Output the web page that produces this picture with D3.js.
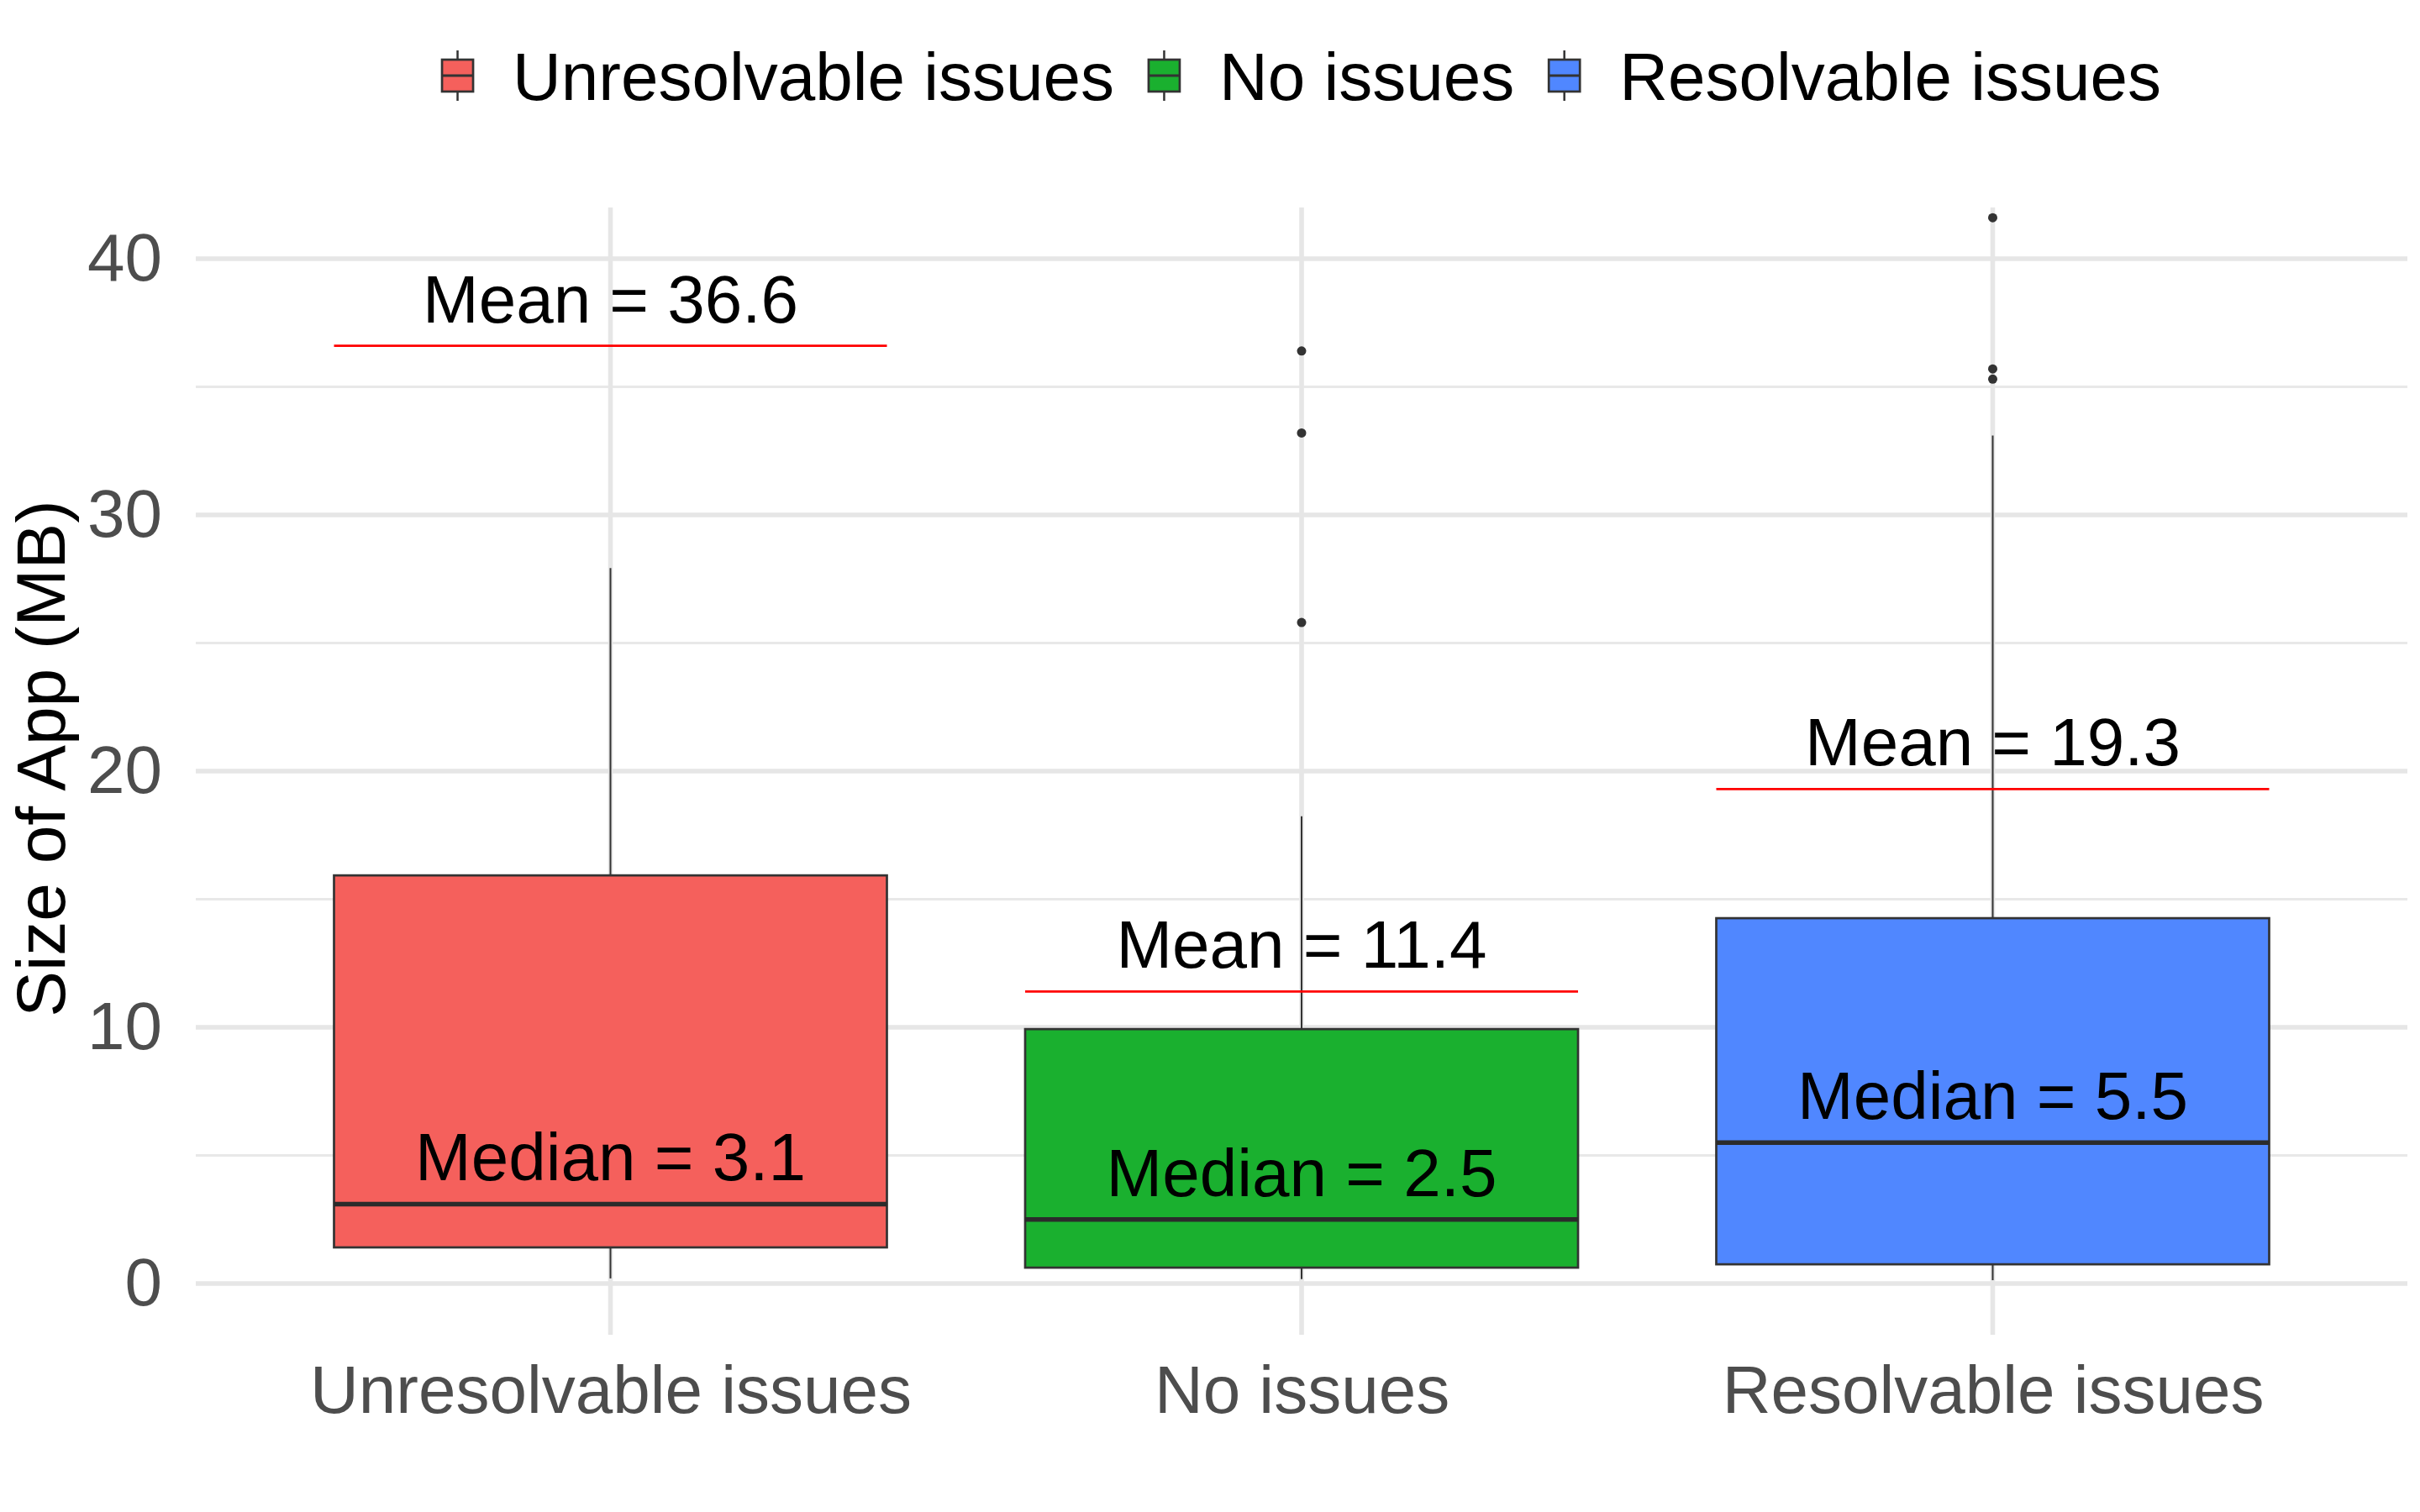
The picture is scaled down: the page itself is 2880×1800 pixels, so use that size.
<!DOCTYPE html>
<html>
<head>
<meta charset="utf-8">
<script src="https://cdn.jsdelivr.net/npm/d3@7"></script>
<style>
  body { margin: 0; background: #fff; }
  text { font-family: "Liberation Sans", Arial, sans-serif; }
</style>
</head>
<body>
<div class="container"></div>
<script>
// box plot stats (MB)
const groups = ["Unresolvable issues", "No issues", "Resolvable issues"];
const fills = ["#F5605C", "#1AB02F", "#5087FF"];
const lowerWhisker = [0.2, 0.17, 0.13];
const q1 = [1.41, 0.62, 0.75];
const medians = [3.1, 2.5, 5.5];
const q3 = [15.93, 9.93, 14.26];
const upperWhisker = [27.93, 18.24, 33.1];
const means = [36.6, 11.4, 19.3];
const outliers = [[], [36.4, 33.2, 25.8], [41.6, 35.7, 35.3]];
const yTicks = [0, 10, 20, 30, 40];
const yMinor = [5, 15, 25, 35];

let outerWidth = 2880,
    outerHeight = 1800;
let panel = {left: 233, right: 2865, top: 247, bottom: 1589};

let svg = d3.select('.container').append('svg')
  .attr('width', outerWidth)
  .attr('height', outerHeight);

let x = d3.scalePoint()
  .domain(groups)
  .range([panel.left, panel.right])
  .padding(0.6);

let y = d3.scaleLinear()
  .domain([-2, 42])
  .range([panel.bottom, panel.top]);

let boxW = x.step() * 0.8;

// grid
let grid = svg.append('g');
grid.selectAll('.minor')
  .data(yMinor)
  .enter().append('line')
  .attr('x1', panel.left).attr('x2', panel.right)
  .attr('y1', d => y(d)).attr('y2', d => y(d))
  .attr('stroke', '#E8E8E8').attr('stroke-width', 2.8);
grid.selectAll('.major')
  .data(yTicks)
  .enter().append('line')
  .attr('x1', panel.left).attr('x2', panel.right)
  .attr('y1', d => y(d)).attr('y2', d => y(d))
  .attr('stroke', '#E6E6E6').attr('stroke-width', 5.6);
grid.selectAll('.vmajor')
  .data(groups)
  .enter().append('line')
  .attr('x1', d => x(d)).attr('x2', d => x(d))
  .attr('y1', panel.top).attr('y2', panel.bottom)
  .attr('stroke', '#E6E6E6').attr('stroke-width', 5.6);

// axes
let yAxis = d3.axisLeft(y).tickValues(yTicks).tickSize(0).tickPadding(40);
let gy = svg.append('g')
  .attr('transform', `translate(${panel.left},0)`)
  .call(yAxis);
let xAxis = d3.axisBottom(x).tickSize(0).tickPadding(36);
let gx = svg.append('g')
  .attr('transform', `translate(0,${panel.bottom})`)
  .call(xAxis);
[gx, gy].forEach(g => {
  g.select('.domain').remove();
  g.selectAll('text')
    .attr('font-size', 80)
    .attr('fill', '#4D4D4D')
    .attr('font-family', '"Liberation Sans", Arial, sans-serif');
});

svg.append('text')
  .attr('transform', 'translate(77,903) rotate(-90)')
  .attr('text-anchor', 'middle')
  .attr('font-size', 82)
  .attr('fill', '#000')
  .text('Size of App (MB)');

// boxes
let boxes = svg.append('g');
groups.forEach((g, i) => {
  let cx = x(g);
  let b = boxes.append('g');
  b.append('line')
    .attr('x1', cx).attr('x2', cx)
    .attr('y1', y(q3[i])).attr('y2', y(upperWhisker[i]))
    .attr('stroke', '#333').attr('stroke-width', 2);
  b.append('line')
    .attr('x1', cx).attr('x2', cx)
    .attr('y1', y(q1[i])).attr('y2', y(lowerWhisker[i]))
    .attr('stroke', '#333').attr('stroke-width', 2);
  b.append('rect')
    .attr('x', cx - boxW / 2)
    .attr('width', boxW)
    .attr('y', y(q3[i]))
    .attr('height', y(q1[i]) - y(q3[i]))
    .attr('fill', fills[i])
    .attr('stroke', '#333').attr('stroke-width', 2.7);
  b.append('line')
    .attr('x1', cx - boxW / 2).attr('x2', cx + boxW / 2)
    .attr('y1', y(medians[i])).attr('y2', y(medians[i]))
    .attr('stroke', '#2b2b2b').attr('stroke-width', 5.5);
  b.selectAll('circle')
    .data(outliers[i])
    .enter().append('circle')
    .attr('cx', cx)
    .attr('cy', d => y(d))
    .attr('r', 5.5)
    .attr('fill', '#333');
  // mean line + labels
  b.append('line')
    .attr('x1', cx - boxW / 2).attr('x2', cx + boxW / 2)
    .attr('y1', y(means[i])).attr('y2', y(means[i]))
    .attr('stroke', '#FF0000').attr('stroke-width', 2.7);
  b.append('text')
    .attr('x', cx)
    .attr('y', y(means[i]) - 28)
    .attr('text-anchor', 'middle')
    .attr('font-size', 80)
    .attr('fill', '#000')
    .text('Mean = ' + means[i]);
  b.append('text')
    .attr('x', cx)
    .attr('y', y(medians[i]) - 28)
    .attr('text-anchor', 'middle')
    .attr('font-size', 80)
    .attr('fill', '#000')
    .text('Median = ' + medians[i]);
});

// legend
let legend = svg.append('g');
let keyW = 37, keyH = 38, keyGap = 47, itemGap = 41, legendY = 90;
let items = groups.map((g, i) => {
  let it = legend.append('g');
  it.append('line')
    .attr('x1', keyW / 2).attr('x2', keyW / 2)
    .attr('y1', -30).attr('y2', 30)
    .attr('stroke', '#333').attr('stroke-width', 2.5);
  it.append('rect')
    .attr('x', 0).attr('y', -keyH / 2)
    .attr('width', keyW).attr('height', keyH)
    .attr('fill', fills[i])
    .attr('stroke', '#333').attr('stroke-width', 2.7);
  it.append('line')
    .attr('x1', 0).attr('x2', keyW)
    .attr('y1', 0).attr('y2', 0)
    .attr('stroke', '#333').attr('stroke-width', 3);
  let t = it.append('text')
    .attr('x', keyW + keyGap)
    .attr('y', 0)
    .attr('dy', '0.36em')
    .attr('font-size', 80)
    .attr('fill', '#000')
    .text(g);
  return {it, w: keyW + keyGap + t.node().getComputedTextLength()};
});
let total = d3.sum(items, d => d.w) + itemGap * (items.length - 1);
let lx = (panel.left + panel.right) / 2 - total / 2;
items.forEach(d => {
  d.it.attr('transform', `translate(${lx},${legendY})`);
  lx += d.w + itemGap;
});
</script>
</body>
</html>
